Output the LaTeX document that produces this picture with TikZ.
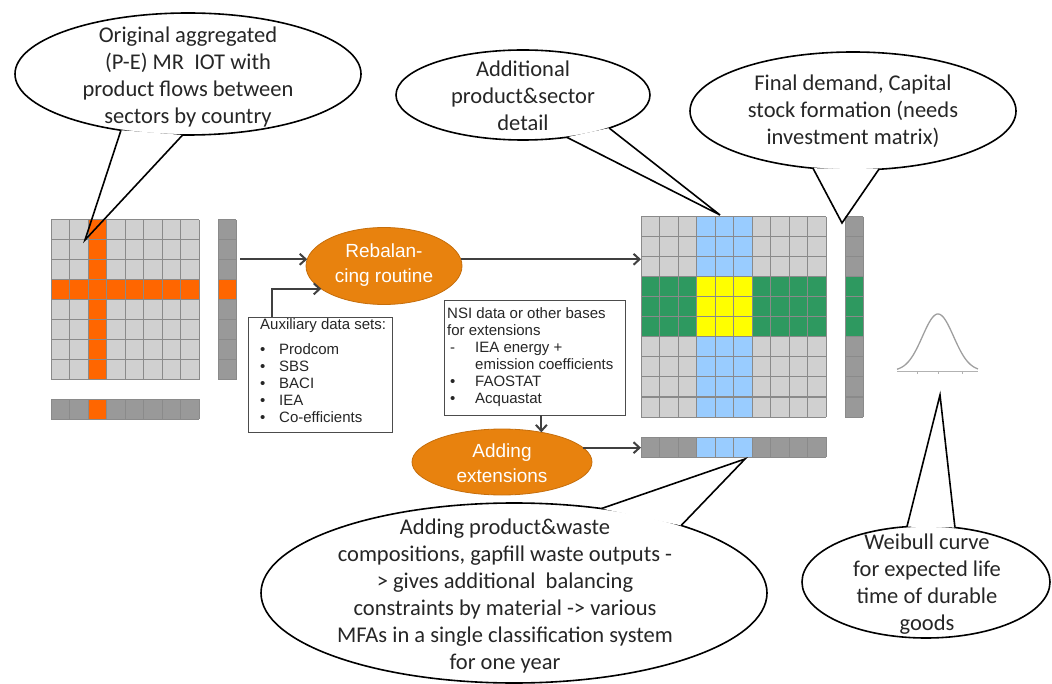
\documentclass[tikz,border=0pt]{standalone}
\usepackage{fontspec}
\setmainfont{Carlito}
\newfontfamily\arialfont{Liberation Sans}
\usetikzlibrary{arrows.meta,shapes.geometric}
\definecolor{cellgray}{HTML}{D0D0D0}
\definecolor{gridcol}{HTML}{8A8A8A}
\definecolor{darkcell}{HTML}{999999}
\definecolor{orangecell}{HTML}{FF6600}
\definecolor{bluecell}{HTML}{99CCFF}
\definecolor{greencell}{HTML}{2E9960}
\definecolor{yellowcell}{HTML}{FFFF00}
\definecolor{ellorange}{HTML}{E8820E}
\definecolor{arrowgray}{HTML}{404040}
\definecolor{textgray}{HTML}{262626}
\newcommand{\drawgrid}[6]{%
  \foreach \k in {0,...,#3} \draw[gridline] ({#1+\k*#5},#2) -- ({#1+\k*#5},{#2+#4*#6});
  \foreach \k in {0,...,#4} \draw[gridline] (#1,{#2+\k*#6}) -- ({#1+#3*#5},{#2+\k*#6});
}
\newcommand{\bul}{\makebox[19pt][l]{\textbullet}}
\newcommand{\dsh}{\makebox[28pt][l]{\hspace{3pt}-}}
\newcommand{\bulb}{\makebox[28pt][l]{\hspace{3pt}\textbullet}}
\begin{document}
\begin{tikzpicture}[x=1pt,y=-1pt,
  gridline/.style={draw=gridcol, line width=1pt},
  area/.style={inner sep=0pt, outer sep=0pt, draw=none},
  callout/.style={ellipse, draw=black, fill=white, line width=1.6pt, inner sep=0pt, outer sep=0pt},
  cline/.style={draw=black, line width=1.6pt, line join=miter},
  ctext/.style={font=\fontsize{22.5}{27}\selectfont, text=textgray, align=center, inner sep=0pt},
  orangeell/.style={ellipse, fill=ellorange, draw=ellorange!85!black, line width=0.8pt, inner sep=0pt, outer sep=0pt},
  orangetext/.style={text=white, align=center, inner sep=0pt, font=\arialfont\fontsize{19}{24.5}\selectfont},
  infobox/.style={draw=gray!60!black, line width=0.8pt, fill=white, inner sep=0pt, outer sep=0pt},
  boxtext/.style={font=\arialfont\fontsize{15}{17}\selectfont, text=textgray, align=left, inner sep=0pt},
  arr/.style={draw=arrowgray, line width=2pt, -{Straight Barb[length=6pt,width=11pt]}},
]
\useasboundingbox (0,0) rectangle (1052,684);

% ---------- callout ellipses ----------
\node[callout, minimum width=346pt, minimum height=122pt] (c1) at (188,74) {};
\node[callout, minimum width=254pt, minimum height=90pt] (c2) at (523,95) {};
\node[callout, minimum width=326pt, minimum height=118pt] (c3) at (853,111) {};
\node[callout, minimum width=506pt, minimum height=180pt] (c4) at (514,593) {};
\node[callout, minimum width=248pt, minimum height=112pt] (c5) at (926,582) {};
\coordinate (tip1) at (85,240);
\coordinate (tip2) at (720,215);
\coordinate (tip3) at (842,223);
\coordinate (tip4) at (745,459);
\coordinate (tip5) at (940,395);
\fill[white] (c1.-140) -- (tip1) -- (c1.-95) -- cycle;
\fill[white] (c2.-44) -- (tip2) -- (c2.-21) -- cycle;
\fill[white] (c3.-125) -- (tip3) -- (c3.-66) -- cycle;
\fill[white] (c4.44) -- (tip4) -- (c4.22) -- cycle;
\fill[white] (c5.109) -- (tip5) -- (c5.62) -- cycle;

% ---------- left matrix ----------
\fill[cellgray] (51,220) rectangle (199,380);
\fill[orangecell] (88,220) rectangle (106.5,380);
\fill[orangecell] (51,280) rectangle (199,300);
\drawgrid{51}{220}{8}{8}{18.5}{20}
\fill[darkcell] (218,220) rectangle (236,380);
\fill[orangecell] (218,280) rectangle (236,300);
\drawgrid{218}{220}{1}{8}{18}{20}
\fill[darkcell] (51,399) rectangle (199,419);
\fill[orangecell] (88,399) rectangle (106.5,419);
\drawgrid{51}{399}{8}{1}{18.5}{20}
\node[area, minimum width=148pt, minimum height=160pt] (Lmat) at (125,300) {};
\node[area, minimum width=18pt, minimum height=160pt] (Lvec) at (227,300) {};
\node[area, minimum width=148pt, minimum height=20pt] (Lrow) at (125,409) {};

% ---------- right matrix ----------
\fill[cellgray] (641,217) rectangle (826,417);
\fill[bluecell] (696.5,217) rectangle (752,417);
\fill[greencell] (641,277) rectangle (826,337);
\fill[yellowcell] (696.5,277) rectangle (752,337);
\drawgrid{641}{217}{10}{10}{18.5}{20}
\fill[darkcell] (845,217) rectangle (863,417);
\fill[greencell] (845,277) rectangle (863,337);
\drawgrid{845}{217}{1}{10}{18}{20}
\fill[darkcell] (641,437) rectangle (826,457);
\fill[bluecell] (696.5,437) rectangle (752,457);
\drawgrid{641}{437}{10}{1}{18.5}{20}
\node[area, minimum width=185pt, minimum height=200pt] (Rmat) at (733.5,317) {};
\node[area, minimum width=18pt, minimum height=200pt] (Rvec) at (854,317) {};
\node[area, minimum width=185pt, minimum height=20pt] (Rrow) at (733.5,447) {};

% ---------- process ellipses ----------
\node[orangeell, minimum width=156pt, minimum height=77pt] (Rebal) at (384,266) {};
\node[orangetext] (RebalT) at (384,265) {Rebalan-\\cing routine};
\node[orangeell, minimum width=180pt, minimum height=66pt] (Adding) at (502,462) {};
\node[orangetext] (AddingT) at (502,463) {Adding\\extensions};

% ---------- info boxes ----------
\node[infobox, minimum width=144pt, minimum height=115pt] (Aux) at (320,374.5) {};
\node[boxtext, anchor=north west] (AuxT) at (260,318) {Auxiliary data sets:\\[8pt]\bul Prodcom\\\bul SBS\\\bul BACI\\\bul IEA\\\bul Co-efficients};
\node[infobox, minimum width=181pt, minimum height=115pt] (NSI) at (534.5,357.5) {};
\node[boxtext, anchor=north west] (NSIT) at (447,307) {NSI data or other bases\\for extensions\\\dsh IEA energy +\\\hspace{28pt}emission coefficients\\\bulb FAOSTAT\\\bulb Acquastat};

% ---------- arrows ----------
\draw[arr] ([xshift=4pt]Lvec.east |- Rebal.175) -- (Rebal.175);
\coordinate (auxbend) at (272,290);
\draw[arr] (Aux.north -| auxbend) |- (Rebal.200);
\draw[arr] (Rebal.5) -- (Rmat.west |- Rebal.5);
\draw[arr] (NSI.south -| Adding.37) -- (Adding.37);
\draw[arr] (Adding.10) -- (Rrow.west |- Adding.10);

% ---------- Weibull curve ----------
\draw[gray!60, line width=0.6pt] (897,371) -- (978,371);
\foreach \t in {917,938,962} \draw[gray!60, line width=0.5pt] (\t,371) -- (\t,374);
\draw[gray!75, line width=1.3pt] plot[domain=897:978, samples=70, smooth] (\x, {371-57*exp(-(\x-938)*(\x-938)/484)});

% ---------- callout pointers ----------
\draw[cline] (c1.-140) -- (tip1) -- (c1.-95);
\draw[cline] (c2.-44) -- (tip2) -- (c2.-21);
\draw[cline] (c3.-125) -- (tip3) -- (c3.-66);
\draw[cline] (c4.44) -- (tip4) -- (c4.22);
\draw[cline] (c5.109) -- (tip5) -- (c5.62);

% ---------- callout texts ----------
\node[ctext] (t1) at (188,77) {Original aggregated\\(P-E) MR\ \ IOT with\\product flows between\\sectors by country};
\node[ctext] (t2) at (523,96) {Additional\\product\&sector\\detail};
\node[ctext] (t3) at (853,111) {Final demand, Capital\\stock formation (needs\\investment matrix)};
\node[ctext] (t4) at (505,596) {Adding product\&waste\\compositions, gapfill waste outputs -\\> gives additional\ \ balancing\\constraints by material -> various\\MFAs in a single classification system\\for one year};
\node[ctext] (t5) at (927,584) {Weibull curve\\for expected life\\time of durable\\goods};
\end{tikzpicture}
\end{document}
